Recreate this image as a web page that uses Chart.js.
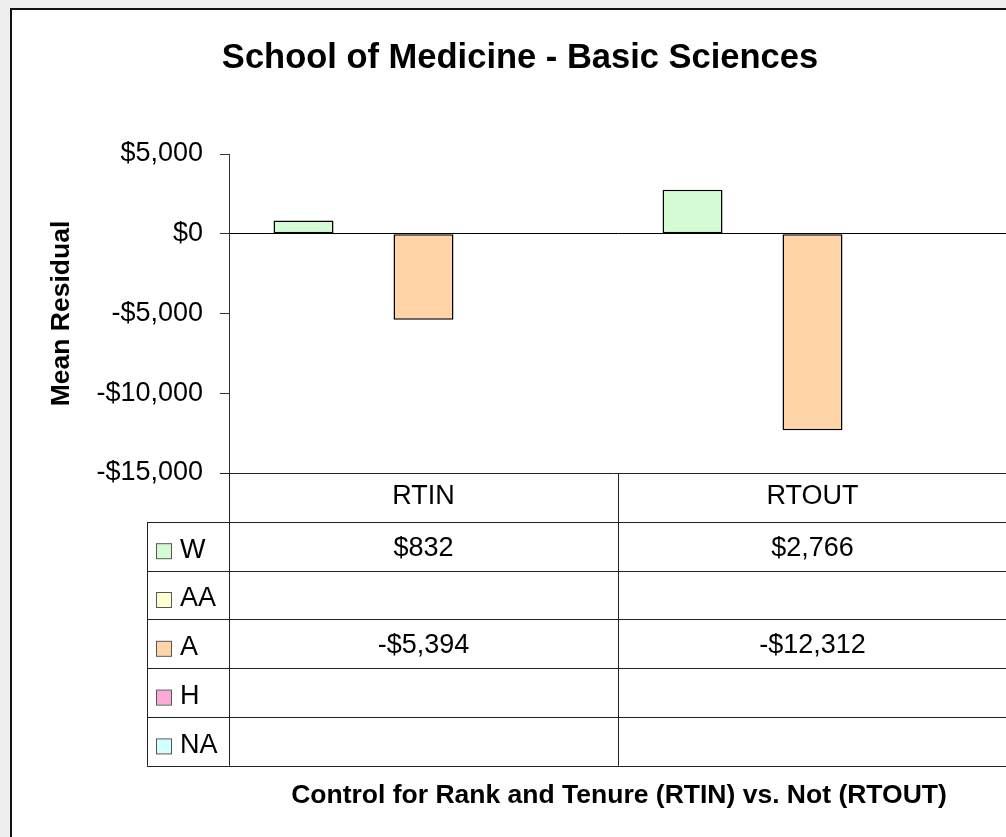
<!DOCTYPE html>
<html>
<head>
<meta charset="utf-8">
<title>School of Medicine - Basic Sciences</title>
<script src="https://cdn.jsdelivr.net/npm/chart.js@4.4.1/dist/chart.umd.min.js"></script>
<style>
  html, body { margin:0; padding:0; background:#eeeeee; overflow:hidden; }
  #wrap { position:relative; width:1006px; height:837px; overflow:hidden; }
  #c { position:absolute; left:0; top:0; }
</style>
</head>
<body>
<div id="wrap"><canvas id="c" width="1020" height="837"></canvas></div>
<script>
// data
const categories = ['RTIN', 'RTOUT'];
const seriesNames = ['W', 'AA', 'A', 'H', 'NA'];
const wVals  = [832, 2766];
const aaVals = [null, null];
const aVals  = [-5394, -12312];
const hVals  = [null, null];
const naVals = [null, null];
const yMin = -15000, yMax = 5000, yStep = 5000;

const fills = ['#d4fcd4', '#ffffd2', '#ffd5a8', '#ffa8d6', '#d4ffff'];
const FONT = '"Liberation Sans", Arial, sans-serif';

const money = v => (v < 0 ? '-' : '') + '$' + Math.abs(v).toLocaleString('en-US');

const allVals = [wVals, aaVals, aVals, hVals, naVals];

// table geometry (below plot)
const ROW_H = 48.8;
const LEG_LEFT = 147;

const framePlugin = {
  id: 'frame',
  beforeDraw(chart){
    const c = chart.ctx;
    c.save();
    c.fillStyle = '#eeeeee';
    c.fillRect(0, 0, chart.width, chart.height);
    c.fillStyle = '#ffffff';
    c.fillRect(10, 8, chart.width, chart.height);
    c.strokeStyle = '#111';
    c.lineWidth = 2;
    c.beginPath();
    c.moveTo(11, chart.height); c.lineTo(11, 9); c.lineTo(chart.width, 9);
    c.stroke();
    c.restore();
  },
  afterDraw(chart){
    const c = chart.ctx, a = chart.chartArea, x = chart.scales.x;
    const top = a.bottom;
    const bottom = top + ROW_H * (seriesNames.length + 1);
    c.save();
    c.strokeStyle = '#222';
    c.lineWidth = 1;
    c.beginPath();
    // header top line
    c.moveTo(a.left - 9, top + 0.5); c.lineTo(a.right, top + 0.5);
    // row lines
    for (let r = 1; r <= seriesNames.length + 1; r++){
      const y = Math.round(top + ROW_H * r) + 0.5;
      c.moveTo(LEG_LEFT, y); c.lineTo(a.right, y);
    }
    // vertical lines: legend col, axis, category separators
    c.moveTo(LEG_LEFT + 0.5, Math.round(top + ROW_H)); c.lineTo(LEG_LEFT + 0.5, bottom);
    c.moveTo(a.left + 0.5, top); c.lineTo(a.left + 0.5, bottom);
    for (let i = 1; i < categories.length; i++){
      const xs = Math.round((x.getPixelForValue(i - 1) + x.getPixelForValue(i)) / 2) + 0.5;
      c.moveTo(xs, top); c.lineTo(xs, bottom);
    }
    c.stroke();

    // header labels
    c.fillStyle = '#000';
    c.font = '27px ' + FONT;
    c.textAlign = 'center';
    c.textBaseline = 'middle';
    categories.forEach((cat, i) => c.fillText(cat, x.getPixelForValue(i), top + ROW_H / 2 - 1));

    // rows: legend key + values
    chart.data.datasets.forEach((ds, r) => {
      const cy = top + ROW_H * (r + 1.5);
      c.fillStyle = ds.backgroundColor;
      c.fillRect(157, cy - 2, 14, 14);
      c.strokeStyle = '#555';
      c.strokeRect(156.5, cy - 2.5, 15, 15);
      c.fillStyle = '#000';
      c.textAlign = 'left';
      c.fillText(ds.label, 180, cy + 4);
      c.textAlign = 'center';
      ds.data.forEach((v, i) => {
        if (v !== null) c.fillText(money(v), x.getPixelForValue(i), cy + 2);
      });
    });

    // titles
    c.font = 'bold 34.5px ' + FONT;
    c.fillText('School of Medicine - Basic Sciences', 520, 58);
    c.font = 'bold 26.5px ' + FONT;
    c.fillText('Control for Rank and Tenure (RTIN) vs. Not (RTOUT)', 619, 796);
    c.translate(62, (a.top + a.bottom) / 2);
    c.rotate(-Math.PI / 2);
    c.fillText('Mean Residual', 0, 0);
    c.restore();
  }
};

new Chart(document.getElementById('c'), {
  type: 'bar',
  data: {
    labels: categories,
    datasets: seriesNames.map((name, i) => ({
      label: name,
      data: allVals[i],
      backgroundColor: fills[i],
      borderColor: '#000',
      borderWidth: 1.5,
      borderSkipped: false,
      barPercentage: 1,
      categoryPercentage: 0.771
    }))
  },
  options: {
    responsive: false,
    animation: false,
    devicePixelRatio: 1,
    layout: { padding: { left: 0, right: 13, top: 154, bottom: 364 } },
    plugins: { legend: { display: false }, title: { display: false }, tooltip: { enabled: false } },
    scales: {
      x: { display: false },
      y: {
        min: yMin, max: yMax,
        afterFit: s => { s.width = 229; },
        border: { display: true, color: '#333', width: 1 },
        grid: {
          color: ctx => ctx.tick && ctx.tick.value === 0 ? '#000' : 'rgba(0,0,0,0)',
          tickColor: '#333',
          tickLength: 9,
          lineWidth: 1
        },
        ticks: {
          stepSize: yStep,
          padding: 17,
          color: '#000',
          font: { family: FONT, size: 27 },
          callback: v => money(v)
        }
      }
    }
  },
  plugins: [framePlugin]
});
</script>
</body>
</html>
